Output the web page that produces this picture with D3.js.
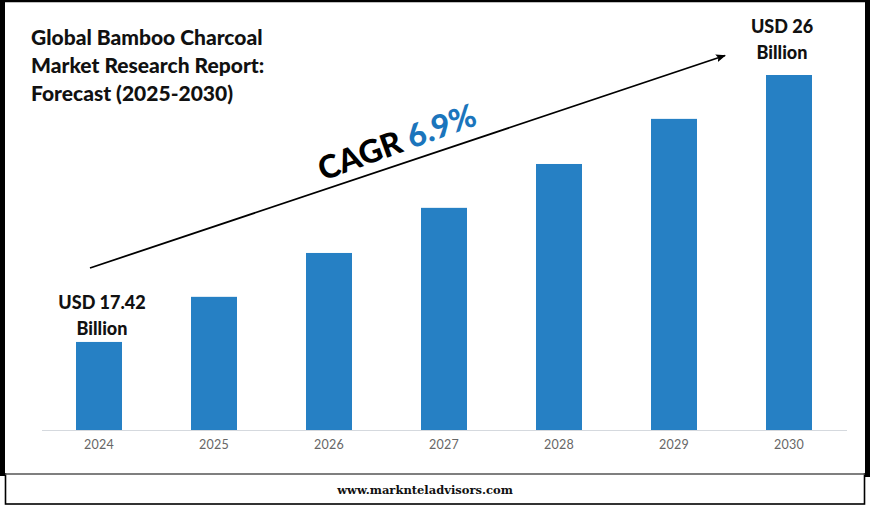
<!DOCTYPE html>
<html><head><meta charset="utf-8">
<script src="https://cdn.jsdelivr.net/npm/d3@7/dist/d3.min.js"></script>
<style>html,body{margin:0;padding:0;background:#fff}svg{display:block}text{font-family:Lato,sans-serif}</style>
</head><body><svg id="c" width="870" height="506"></svg>
<script>
const years=["2024","2025","2026","2027","2028","2029","2030"];
const values=[17.42,18.87,20.28,21.73,23.14,24.59,26];
const titleLines=["Global Bamboo Charcoal","Market Research Report:","Forecast (2025-2030)"];
const startLabel=["USD 17.42","Billion"];
const endLabel=["USD 26","Billion"];
const svg=d3.select("#c");
const defs=svg.append("defs");
defs.append("marker").attr("id","ah").attr("viewBox","0 0 10 8").attr("refX",9).attr("refY",4)
 .attr("markerWidth",10).attr("markerHeight",8).attr("markerUnits","userSpaceOnUse").attr("orient","auto")
 .append("path").attr("d","M0,0L10,4L0,8L2,4Z").attr("fill","#000");
const f=defs.append("filter").attr("id","bl").attr("x","-5%").attr("y","-200%").attr("width","110%").attr("height","500%");
f.append("feGaussianBlur").attr("stdDeviation",0.9);
// frame
svg.append("rect").attr("x",5.5).attr("y",470).attr("width",859).attr("height",34).attr("fill","#fff").attr("stroke","#000").attr("stroke-width",1.6);
svg.append("rect").attr("x",0).attr("y",0).attr("width",5).attr("height",476).attr("fill","#000");
svg.append("rect").attr("x",0).attr("y",0).attr("width",870).attr("height",2.5).attr("fill","#000");
svg.append("rect").attr("x",865).attr("y",0).attr("width",5).attr("height",477).attr("fill","#000");
svg.append("rect").attr("x",5).attr("y",2.5).attr("width",860).attr("height",470.5).attr("fill","#fff");
svg.append("line").attr("x1",5).attr("x2",865).attr("y1",475).attr("y2",475).attr("stroke","#777").attr("stroke-width",2.5).attr("filter","url(#bl)");
svg.append("line").attr("x1",5).attr("x2",865).attr("y1",474).attr("y2",474).attr("stroke","#555").attr("stroke-width",1.6);
// scales
const x=d3.scaleBand().domain(years).range([41.5,846.5]).paddingInner(0.6).paddingOuter(0.3);
const y=d3.scaleLinear().domain([14.59,26]).range([430,75]);
svg.append("g").selectAll("rect").data(values).join("rect")
 .attr("x",(d,i)=>x(years[i])).attr("y",d=>y(d)).attr("width",x.bandwidth()).attr("height",d=>430-y(d)).attr("fill","#2680c4");
const ax=svg.append("g").attr("transform","translate(0,430)").call(d3.axisBottom(x).tickSize(0).tickPadding(10));
ax.select(".domain").attr("stroke","#d5d9de").attr("stroke-width",1.2);
ax.selectAll("text").attr("font-size",12.5).attr("fill","#666").style("font-family","Lato,sans-serif").style("letter-spacing","0.3px");
// title
svg.append("g").selectAll("text").data(titleLines).join("text").attr("x",31).attr("y",(d,i)=>45+i*28)
 .attr("font-size",21).attr("font-weight",900).attr("fill","#111").text(d=>d);
// labels
function lab(lines,cx,y0){svg.append("g").selectAll("text").data(lines).join("text").attr("x",cx).attr("y",(d,i)=>y0+i*26)
 .attr("text-anchor","middle").attr("font-size",18).attr("font-weight",900).attr("fill","#111").text(d=>d);}
lab(startLabel,102,309);
lab(endLabel,782,33);
// arrow
svg.append("line").attr("x1",90).attr("y1",268).attr("x2",725).attr("y2",55.5).attr("stroke","#000").attr("stroke-width",1.8).attr("marker-end","url(#ah)");
// CAGR
const t=svg.append("text").attr("transform","translate(323,181) rotate(-20)").attr("font-size",32).attr("font-weight",900);
t.append("tspan").attr("fill","#000").text("CAGR ");
t.append("tspan").attr("fill","#1b75bc").text("6.9%");
// footer
svg.append("text").attr("x",425).attr("y",494).attr("text-anchor","middle").attr("font-size",11.5).attr("font-weight",900).attr("fill","#111").style("font-family","'DejaVu Serif',serif").text("www.marknteladvisors.com");
</script></body></html>
